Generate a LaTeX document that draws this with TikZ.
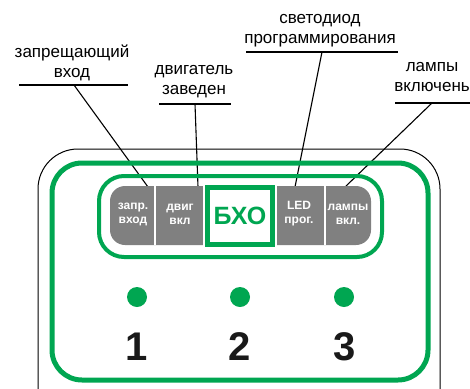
\documentclass[tikz,border=0pt]{standalone}
\usepackage{fontspec}
\setmainfont{Liberation Sans}
\definecolor{vert}{RGB}{0,166,81}
\definecolor{gris}{RGB}{128,128,128}
\tikzset{
  etiquette/.style={align=center, inner sep=0pt, font=\fontsize{17}{20}\selectfont},
  touche/.style={align=center, inner sep=0pt, text=white, font=\fontsize{12}{14}\selectfont\bfseries},
  voyant/.style={circle, fill=vert, inner sep=0pt, minimum size=20pt},
  chiffre/.style={inner sep=0pt, text=black!90, font=\fontsize{40}{40}\selectfont\bfseries},
  trait/.style={line width=2pt},
  renvoi/.style={line width=1.1pt}
}
\begin{document}
\begin{tikzpicture}[x=1pt,y=-1pt]
\useasboundingbox (0,0) rectangle (470,388);
\clip (0,0) rectangle (470,388);
% les etiquettes du haut
\node[etiquette] (zap) at (72,63) {запрещающий\\вход};
\node[etiquette] (dvi) at (194,81.5) {двигатель\\заведен};
\node[etiquette] (led) at (320,31) {светодиод\\программирования};
\node[etiquette] (lam) at (432,77.5) {лампы\\включень};
\coordinate (A1) at (74,85) ; \coordinate (B1) at (148,187) ;
\coordinate (A2) at (195,104) ; \coordinate (B2) at (198,187) ;
\coordinate (A3) at (322,52) ; \coordinate (B3) at (295,187) ;
\coordinate (A4) at (432,103) ; \coordinate (B4) at (345,187) ;
\draw[trait] (19,85) -- (128,85) ;
\draw[trait] (159,104) -- (231,104) ;
\draw[trait] (246,52) -- (398,52) ;
\draw[trait] (395,103) -- (470,103) ;
\draw[renvoi] (A1) -- (B1) ;
\draw[renvoi] (A2) -- (B2) ;
\draw[renvoi] (A3) -- (B3) ;
\draw[renvoi] (A4) -- (B4) ;
% le boitier
\draw[line width=1pt, rounded corners=40pt] (38,149) rectangle (440,440) ;
\draw[vert, line width=5pt, rounded corners=30pt] (52,163) rectangle (428,380) ;
\draw[vert, line width=4pt, rounded corners=25pt] (99,176) rectangle (382,257) ;
% la barre grise
\fill[gris, rounded corners=15pt] (110,186) rectangle (371,245) ;
\draw[white, line width=2pt] (155,186) -- (155,245) ;
\draw[white, line width=2pt] (325,186) -- (325,245) ;
\fill[white] (203,183) rectangle (277,249) ;
\draw[vert, line width=5pt] (207.5,187.5) rectangle (272.5,244.5) ;
\node[touche] (t1) at (133,214) {запр.\\вход};
\node[touche] (t2) at (180,214) {двиг\\вкл};
\node[text=vert, inner sep=0pt, font=\fontsize{25}{25}\selectfont\bfseries] (bxo) at (240,216) {БХО};
\node[touche] (t4) at (299,214) {LED\\прог.};
\node[touche] (t5) at (348,214) {лампы\\вкл.};
% voyants et numeros
\node[voyant] (v1) at (137,297) {};
\node[voyant] (v2) at (240,297) {};
\node[voyant] (v3) at (344,297) {};
\node[chiffre] (n1) at (137,347) {1};
\node[chiffre] (n2) at (240,347) {2};
\node[chiffre] (n3) at (345,347) {3};
\end{tikzpicture}
\end{document}
